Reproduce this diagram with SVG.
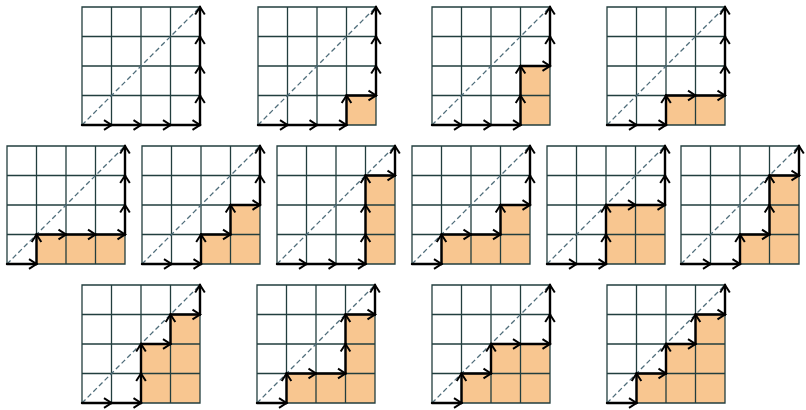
<svg xmlns="http://www.w3.org/2000/svg" xmlns:xlink="http://www.w3.org/1999/xlink" width="806" height="410" viewBox="0 0 806 410">
<style>
.sh{fill:#f8c690;stroke:none}
.g{fill:none;stroke:#223e3e;stroke-width:1.3}
.dg{fill:none;stroke:#4f6d7a;stroke-width:1.3;stroke-dasharray:5 3}
.p path{fill:none;stroke:#000;stroke-width:2.4;stroke-linecap:round;marker-end:url(#a)}
</style>
<defs>
<marker id="a" markerUnits="userSpaceOnUse" markerWidth="14" markerHeight="14" viewBox="-10 -7 14 14" refX="0" refY="0" orient="auto" overflow="visible">
<path d="M-7.5,-4.8 L0,0 L-7.5,4.8" fill="none" stroke="#000" stroke-width="2" stroke-linejoin="miter"/>
</marker>
<g id="grid">
<path class="g" d="M0 0H118V118H0Z M29.5 0V118 M59 0V118 M88.5 0V118 M0 29.5H118 M0 59H118 M0 88.5H118"/>
<path class="dg" d="M0 118L118 0"/>
</g>
</defs>
<rect width="806" height="410" fill="#fff"/>

<g id="d1" transform="translate(82,7)">
<use xlink:href="#grid" href="#grid"/>
<g class="p"><path d="M0 118h29.5"/><path d="M29.5 118h29.5"/><path d="M59 118h29.5"/><path d="M88.5 118h29.5"/><path d="M118 118v-29.5"/><path d="M118 88.5v-29.5"/><path d="M118 59v-29.5"/><path d="M118 29.5v-29.5"/></g>
</g>

<g id="d2" transform="translate(258,7)">
<path class="sh" d="M88.5 118V88.5H118V118Z"/>
<use xlink:href="#grid" href="#grid"/>
<g class="p"><path d="M0 118h29.5"/><path d="M29.5 118h29.5"/><path d="M59 118h29.5"/><path d="M88.5 118v-29.5"/><path d="M88.5 88.5h29.5"/><path d="M118 88.5v-29.5"/><path d="M118 59v-29.5"/><path d="M118 29.5v-29.5"/></g>
</g>

<g id="d3" transform="translate(432,7)">
<path class="sh" d="M88.5 118V59H118V118Z"/>
<use xlink:href="#grid" href="#grid"/>
<g class="p"><path d="M0 118h29.5"/><path d="M29.5 118h29.5"/><path d="M59 118h29.5"/><path d="M88.5 118v-29.5"/><path d="M88.5 88.5v-29.5"/><path d="M88.5 59h29.5"/><path d="M118 59v-29.5"/><path d="M118 29.5v-29.5"/></g>
</g>

<g id="d4" transform="translate(607,7)">
<path class="sh" d="M59 118V88.5H118V118Z"/>
<use xlink:href="#grid" href="#grid"/>
<g class="p"><path d="M0 118h29.5"/><path d="M29.5 118h29.5"/><path d="M59 118v-29.5"/><path d="M59 88.5h29.5"/><path d="M88.5 88.5h29.5"/><path d="M118 88.5v-29.5"/><path d="M118 59v-29.5"/><path d="M118 29.5v-29.5"/></g>
</g>

<g id="d5" transform="translate(7,146)">
<path class="sh" d="M29.5 118V88.5H118V118Z"/>
<use xlink:href="#grid" href="#grid"/>
<g class="p"><path d="M0 118h29.5"/><path d="M29.5 118v-29.5"/><path d="M29.5 88.5h29.5"/><path d="M59 88.5h29.5"/><path d="M88.5 88.5h29.5"/><path d="M118 88.5v-29.5"/><path d="M118 59v-29.5"/><path d="M118 29.5v-29.5"/></g>
</g>

<g id="d6" transform="translate(142,146)">
<path class="sh" d="M59 118V88.5H88.5V59H118V118Z"/>
<use xlink:href="#grid" href="#grid"/>
<g class="p"><path d="M0 118h29.5"/><path d="M29.5 118h29.5"/><path d="M59 118v-29.5"/><path d="M59 88.5h29.5"/><path d="M88.5 88.5v-29.5"/><path d="M88.5 59h29.5"/><path d="M118 59v-29.5"/><path d="M118 29.5v-29.5"/></g>
</g>

<g id="d7" transform="translate(277,146)">
<path class="sh" d="M88.5 118V29.5H118V118Z"/>
<use xlink:href="#grid" href="#grid"/>
<g class="p"><path d="M0 118h29.5"/><path d="M29.5 118h29.5"/><path d="M59 118h29.5"/><path d="M88.5 118v-29.5"/><path d="M88.5 88.5v-29.5"/><path d="M88.5 59v-29.5"/><path d="M88.5 29.5h29.5"/><path d="M118 29.5v-29.5"/></g>
</g>

<g id="d8" transform="translate(412,146)">
<path class="sh" d="M29.5 118V88.5H88.5V59H118V118Z"/>
<use xlink:href="#grid" href="#grid"/>
<g class="p"><path d="M0 118h29.5"/><path d="M29.5 118v-29.5"/><path d="M29.5 88.5h29.5"/><path d="M59 88.5h29.5"/><path d="M88.5 88.5v-29.5"/><path d="M88.5 59h29.5"/><path d="M118 59v-29.5"/><path d="M118 29.5v-29.5"/></g>
</g>

<g id="d9" transform="translate(547,146)">
<path class="sh" d="M59 118V59H118V118Z"/>
<use xlink:href="#grid" href="#grid"/>
<g class="p"><path d="M0 118h29.5"/><path d="M29.5 118h29.5"/><path d="M59 118v-29.5"/><path d="M59 88.5v-29.5"/><path d="M59 59h29.5"/><path d="M88.5 59h29.5"/><path d="M118 59v-29.5"/><path d="M118 29.5v-29.5"/></g>
</g>

<g id="d10" transform="translate(681,146)">
<path class="sh" d="M59 118V88.5H88.5V29.5H118V118Z"/>
<use xlink:href="#grid" href="#grid"/>
<g class="p"><path d="M0 118h29.5"/><path d="M29.5 118h29.5"/><path d="M59 118v-29.5"/><path d="M59 88.5h29.5"/><path d="M88.5 88.5v-29.5"/><path d="M88.5 59v-29.5"/><path d="M88.5 29.5h29.5"/><path d="M118 29.5v-29.5"/></g>
</g>

<g id="d11" transform="translate(82,285)">
<path class="sh" d="M59 118V59H88.5V29.5H118V118Z"/>
<use xlink:href="#grid" href="#grid"/>
<g class="p"><path d="M0 118h29.5"/><path d="M29.5 118h29.5"/><path d="M59 118v-29.5"/><path d="M59 88.5v-29.5"/><path d="M59 59h29.5"/><path d="M88.5 59v-29.5"/><path d="M88.5 29.5h29.5"/><path d="M118 29.5v-29.5"/></g>
</g>

<g id="d12" transform="translate(257,285)">
<path class="sh" d="M29.5 118V88.5H88.5V29.5H118V118Z"/>
<use xlink:href="#grid" href="#grid"/>
<g class="p"><path d="M0 118h29.5"/><path d="M29.5 118v-29.5"/><path d="M29.5 88.5h29.5"/><path d="M59 88.5h29.5"/><path d="M88.5 88.5v-29.5"/><path d="M88.5 59v-29.5"/><path d="M88.5 29.5h29.5"/><path d="M118 29.5v-29.5"/></g>
</g>

<g id="d13" transform="translate(432,285)">
<path class="sh" d="M29.5 118V88.5H59V59H118V118Z"/>
<use xlink:href="#grid" href="#grid"/>
<g class="p"><path d="M0 118h29.5"/><path d="M29.5 118v-29.5"/><path d="M29.5 88.5h29.5"/><path d="M59 88.5v-29.5"/><path d="M59 59h29.5"/><path d="M88.5 59h29.5"/><path d="M118 59v-29.5"/><path d="M118 29.5v-29.5"/></g>
</g>

<g id="d14" transform="translate(607,285)">
<path class="sh" d="M29.5 118V88.5H59V59H88.5V29.5H118V118Z"/>
<use xlink:href="#grid" href="#grid"/>
<g class="p"><path d="M0 118h29.5"/><path d="M29.5 118v-29.5"/><path d="M29.5 88.5h29.5"/><path d="M59 88.5v-29.5"/><path d="M59 59h29.5"/><path d="M88.5 59v-29.5"/><path d="M88.5 29.5h29.5"/><path d="M118 29.5v-29.5"/></g>
</g>
</svg>
